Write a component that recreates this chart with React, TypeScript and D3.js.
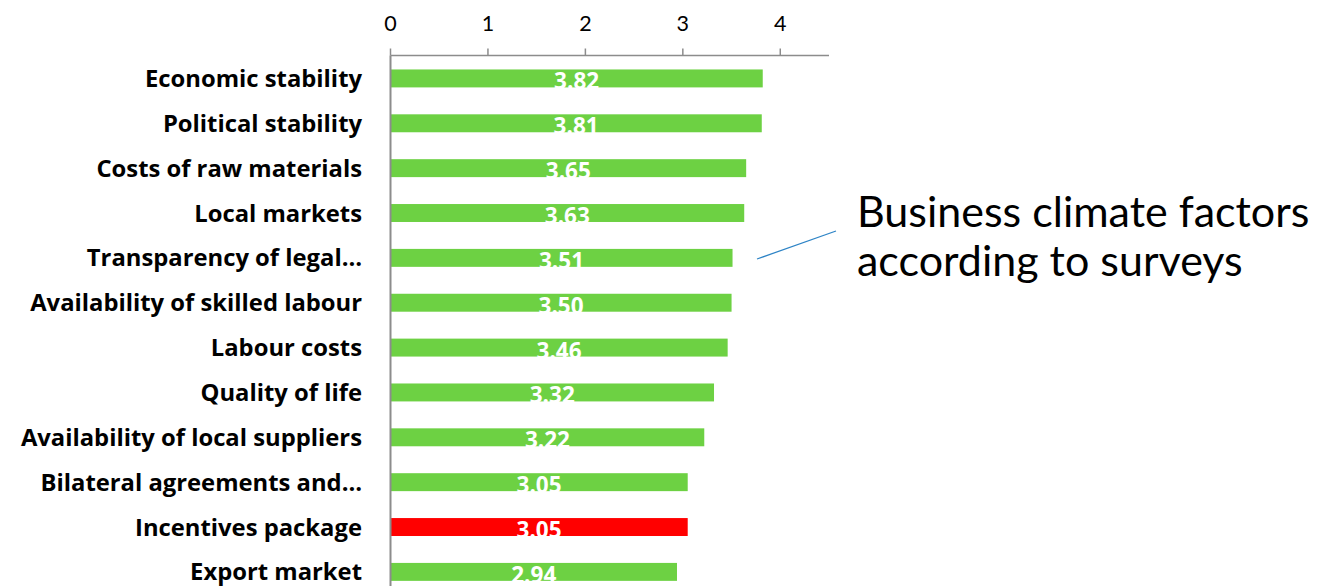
import React from "react";
import * as d3 from "d3";

const categories = [
  "Economic stability",
  "Political stability",
  "Costs of raw materials",
  "Local markets",
  "Transparency of legal…",
  "Availability of skilled labour",
  "Labour costs",
  "Quality of life",
  "Availability of local suppliers",
  "Bilateral agreements and…",
  "Incentives package",
  "Export market",
];
const values = [3.82, 3.81, 3.65, 3.63, 3.51, 3.5, 3.46, 3.32, 3.22, 3.05, 3.05, 2.94];
const highlighted = ["Incentives package"];
const tickValues = [0, 1, 2, 3, 4];
const annotationLines = ["Business climate factors", "according to surveys"];

const W = 1331;
const H = 586;

export default function App() {
  const x = d3.scaleLinear().domain([0, 4.5]).range([390.5, 829]);
  const y = d3
    .scaleBand<string>()
    .domain(categories)
    .range([56, 56 + 12 * 44.86])
    .paddingInner(0.6)
    .paddingOuter(0.3);
  const axisY = 55.5;
  const green = "#6dd143";
  const red = "#ff0000";
  const axisColor = "#8c8c8c";

  return (
    <svg
      width={W}
      height={H}
      style={{ position: "absolute", left: 0, top: 0, display: "block", background: "#fff" }}
    >
      {categories.map((c, i) => {
        const y0 = y(c)!;
        const bw = y.bandwidth();
        return (
          <g key={c}>
            <rect
              x={x(0)}
              y={y0}
              width={x(values[i]) - x(0)}
              height={bw}
              fill={highlighted.includes(c) ? red : green}
            />
            <text
              x={(x(0) + x(values[i])) / 2}
              y={y0 + bw + 2}
              textAnchor="middle"
              fontFamily="'Open Sans', 'Liberation Sans', sans-serif"
              fontWeight="bold"
              fontSize={22.5}
              fill="#fff"
            >
              {values[i].toFixed(2)}
            </text>
            <text
              x={362}
              y={y0 + bw / 2}
              dy="0.36em"
              textAnchor="end"
              fontFamily="'Open Sans', 'Liberation Sans', sans-serif"
              fontWeight="bold"
              fontSize={23.8}
              fill="#000"
            >
              {c}
            </text>
          </g>
        );
      })}
      <line x1={x(0)} x2={x(4.5)} y1={axisY} y2={axisY} stroke={axisColor} strokeWidth={1.5} />
      <line x1={x(0)} x2={x(0)} y1={axisY} y2={H + 10} stroke={axisColor} strokeWidth={2} />
      {tickValues.map((t) => (
        <g key={t}>
          <line x1={x(t)} x2={x(t)} y1={axisY} y2={axisY - 7} stroke={axisColor} strokeWidth={1.5} />
          <text
            x={x(t)}
            y={31}
            textAnchor="middle"
            fontFamily="Lato, 'Liberation Sans', sans-serif"
            fontSize={21.5}
            fill="#000"
          >
            {t}
          </text>
        </g>
      ))}
      <line x1={757} y1={259} x2={836} y2={231} stroke="#2e84c6" strokeWidth={1.3} />
      {annotationLines.map((l, i) => (
        <text
          key={l}
          x={857}
          y={227 + i * 49}
          fontFamily="Lato, 'Liberation Sans', sans-serif"
          fontSize={43}
          fill="#000"
        >
          {l}
        </text>
      ))}
    </svg>
  );
}
